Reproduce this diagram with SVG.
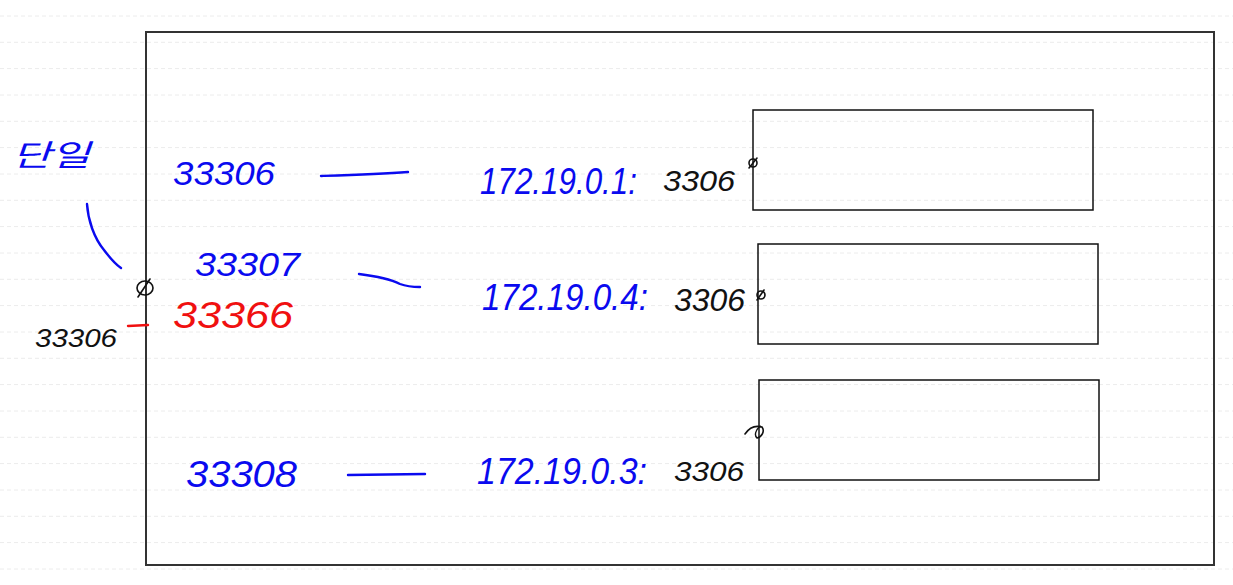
<svg xmlns="http://www.w3.org/2000/svg" width="1233" height="585" viewBox="0 0 1233 585">
<defs>
<style>
.rule{stroke:#ececec;stroke-width:1;stroke-dasharray:4 3}
.frame{fill:none;stroke:#333;stroke-width:2}
.box{fill:none;stroke:#111;stroke-width:1.5}
.port{fill:none;stroke:#111;stroke-width:1.6;stroke-linecap:round}
.ink{fill:none;stroke-width:2.4;stroke-linecap:round;stroke-linejoin:round}
.b{fill:#0a0aef}
.r{fill:#f01010}
.k{fill:#111}
text{font-family:"Liberation Sans","Noto Sans CJK KR",sans-serif;font-style:italic}
</style>
</defs>
<rect width="1233" height="585" fill="#fff"/>
<g id="rules">
<line class="rule" x1="0" y1="16" x2="1233" y2="16"/>
<line class="rule" x1="0" y1="42.3" x2="1233" y2="42.3"/>
<line class="rule" x1="0" y1="68.6" x2="1233" y2="68.6"/>
<line class="rule" x1="0" y1="95" x2="1233" y2="95"/>
<line class="rule" x1="0" y1="121.3" x2="1233" y2="121.3"/>
<line class="rule" x1="0" y1="147.6" x2="1233" y2="147.6"/>
<line class="rule" x1="0" y1="174" x2="1233" y2="174"/>
<line class="rule" x1="0" y1="200.3" x2="1233" y2="200.3"/>
<line class="rule" x1="0" y1="226.6" x2="1233" y2="226.6"/>
<line class="rule" x1="0" y1="253" x2="1233" y2="253"/>
<line class="rule" x1="0" y1="279.3" x2="1233" y2="279.3"/>
<line class="rule" x1="0" y1="305.6" x2="1233" y2="305.6"/>
<line class="rule" x1="0" y1="332" x2="1233" y2="332"/>
<line class="rule" x1="0" y1="358.3" x2="1233" y2="358.3"/>
<line class="rule" x1="0" y1="384.6" x2="1233" y2="384.6"/>
<line class="rule" x1="0" y1="411" x2="1233" y2="411"/>
<line class="rule" x1="0" y1="437.3" x2="1233" y2="437.3"/>
<line class="rule" x1="0" y1="463.6" x2="1233" y2="463.6"/>
<line class="rule" x1="0" y1="490" x2="1233" y2="490"/>
<line class="rule" x1="0" y1="516.3" x2="1233" y2="516.3"/>
<line class="rule" x1="0" y1="542.6" x2="1233" y2="542.6"/>
<line class="rule" x1="0" y1="569" x2="1233" y2="569"/>
</g>
<g id="host">
<rect class="frame" x="146" y="32" width="1068" height="533"/>
</g>
<g id="container1">
<rect class="box" x="753" y="110" width="340" height="100"/>
<ellipse class="port" cx="753" cy="163" rx="4" ry="4"/>
<path class="port" d="M749,168 L757,158"/>
</g>
<g id="container2">
<rect class="box" x="758" y="244" width="340" height="100"/>
<ellipse class="port" cx="761" cy="295" rx="4" ry="4"/>
<path class="port" d="M757,300 L764,290"/>
</g>
<g id="container3">
<rect class="box" x="759" y="380" width="340" height="100"/>
<path class="port" d="M745,434 C749,428 755,425 762,427 C765,431 762,437 757,438 C754,435 756,430 760,426"/>
</g>
<g id="hostport">
<ellipse class="port" cx="145" cy="288" rx="8" ry="7"/>
<path class="port" d="M138,297 L150,279"/>
</g>
<g id="connectors">
<path class="ink" stroke="#0a0aef" d="M321,176 C350,175 380,174 408,172"/>
<path class="ink" stroke="#0a0aef" d="M359,274 C375,276 390,279 400,284 C408,287 414,287 420,287"/>
<path class="ink" stroke="#0a0aef" d="M348,475 L425,474"/>
<path class="ink" stroke="#0a0aef" d="M87,204 C88,220 94,238 104,250 C110,258 115,264 121,268"/>
<path class="ink" stroke="#f01010" d="M128,326 L148,325"/>
</g>
<g id="labels">
<text class="b" x="12" y="166" font-size="30" textLength="78" lengthAdjust="spacingAndGlyphs">단일</text>
<text class="b" x="173" y="185" font-size="34" textLength="102" lengthAdjust="spacingAndGlyphs">33306</text>
<text class="b" x="195" y="276" font-size="34" textLength="105" lengthAdjust="spacingAndGlyphs">33307</text>
<text class="r" x="173" y="328" font-size="36" textLength="120" lengthAdjust="spacingAndGlyphs">33366</text>
<text class="b" x="186" y="487" font-size="36" textLength="111" lengthAdjust="spacingAndGlyphs">33308</text>
<text class="k" x="35" y="347" font-size="26" textLength="82" lengthAdjust="spacingAndGlyphs">33306</text>
<text class="b" x="480" y="194" font-size="36" textLength="157" lengthAdjust="spacingAndGlyphs">172.19.0.1:</text>
<text class="k" x="663" y="191" font-size="30" textLength="72" lengthAdjust="spacingAndGlyphs">3306</text>
<text class="b" x="482" y="310" font-size="36" textLength="166" lengthAdjust="spacingAndGlyphs">172.19.0.4:</text>
<text class="k" x="674" y="311" font-size="32" textLength="71" lengthAdjust="spacingAndGlyphs">3306</text>
<text class="b" x="477" y="484" font-size="36" textLength="170" lengthAdjust="spacingAndGlyphs">172.19.0.3:</text>
<text class="k" x="674" y="481" font-size="28" textLength="70" lengthAdjust="spacingAndGlyphs">3306</text>
</g>
</svg>
